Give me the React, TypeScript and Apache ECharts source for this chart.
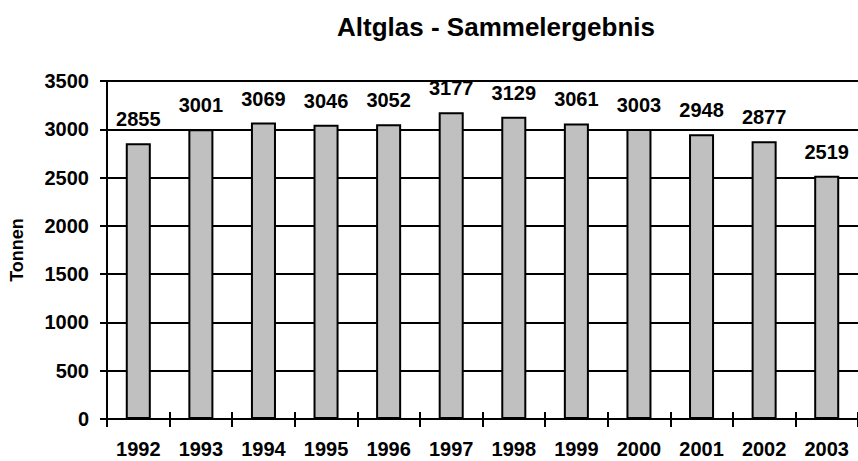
import React, { useEffect, useRef } from "react";
import * as echarts from "echarts";

const years = ["1992", "1993", "1994", "1995", "1996", "1997", "1998", "1999", "2000", "2001", "2002", "2003"];
const tonnen = [2855, 3001, 3069, 3046, 3052, 3177, 3129, 3061, 3003, 2948, 2877, 2519];
const titleText = "Altglas - Sammelergebnis";
const yName = "Tonnen";

export default function App() {
  const ref = useRef<HTMLDivElement>(null);
  useEffect(() => {
    if (!ref.current) return;
    const chart = echarts.init(ref.current, undefined, { renderer: "svg" });
    const font = "'Liberation Sans', Arial, sans-serif";
    chart.setOption({
      animation: false,
      backgroundColor: "#ffffff",
      title: {
        text: titleText,
        left: 491,
        top: 9,
        textAlign: "center",
        textStyle: { fontFamily: font, fontWeight: "bold", fontSize: 26, color: "#000" },
      },
      grid: { left: 107, top: 81, right: -6, bottom: 42, containLabel: false },
      xAxis: [
        {
          type: "category",
          data: years,
          boundaryGap: true,
          axisLine: { lineStyle: { color: "#000", width: 2 } },
          axisTick: { show: false },
          axisLabel: { fontFamily: font, fontWeight: "bold", fontSize: 20, color: "#000", margin: 20 },
        },
        {
          type: "category",
          data: years,
          position: "bottom",
          offset: -7,
          boundaryGap: true,
          axisLine: { show: true, lineStyle: { color: "#000", width: 2, opacity: 0 } },
          axisTick: { show: true, length: 15, lineStyle: { color: "#000", width: 2 } },
          axisLabel: { show: false },
        },
      ],
      yAxis: {
        type: "value",
        min: 0,
        max: 3500,
        interval: 500,
        name: yName,
        nameLocation: "middle",
        nameGap: 81,
        nameTextStyle: { fontFamily: font, fontWeight: "bold", fontSize: 18, color: "#000" },
        axisLine: { show: true, lineStyle: { color: "#000", width: 2 } },
        axisTick: { show: true, length: 7, lineStyle: { color: "#000", width: 2 } },
        axisLabel: {
          fontFamily: font,
          fontWeight: "bold",
          fontSize: 20,
          color: "#000",
          margin: 18,
          formatter: (v: number) => String(v),
        },
        splitLine: { show: true, lineStyle: { color: "#000", width: 2 } },
      },
      series: [
        {
          type: "bar",
          data: tonnen,
          barWidth: "40%",
          itemStyle: { color: "#c0c0c0", borderColor: "#000", borderWidth: 2 },
          label: {
            show: true,
            position: "top",
            distance: 14,
            fontFamily: font,
            fontWeight: "bold",
            fontSize: 20,
            color: "#000",
          },
        },
      ],
    });
    return () => chart.dispose();
  }, []);
  return <div ref={ref} style={{ width: 858, height: 461, position: "absolute", left: 0, top: 0 }} />;
}
